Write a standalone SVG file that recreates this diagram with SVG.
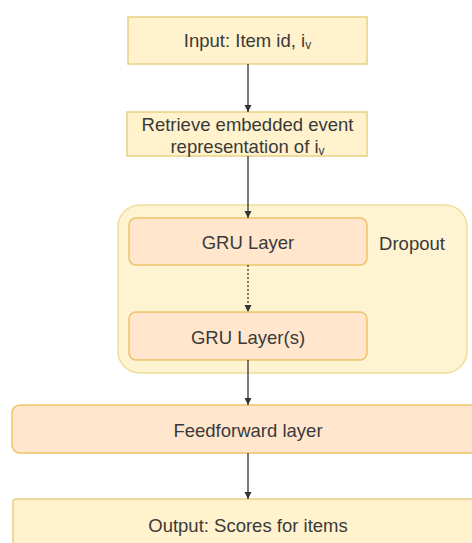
<svg xmlns="http://www.w3.org/2000/svg" width="472" height="543" viewBox="0 0 472 543">
<style>
.y{fill:#fff2cc;stroke:#e8d084;stroke-width:1.5}
.o{fill:#ffe6cc;stroke:#eec36a;stroke-width:1.5}
.c{fill:#fff4d2;stroke:#f0dc9a;stroke-width:1.5}
text{font-family:"Liberation Sans",Arial,sans-serif;font-size:18.5px;fill:#3a3a3a;text-anchor:middle;dominant-baseline:central}
.ln{stroke:#333;stroke-width:1.3;fill:none}
</style>
<defs>
<marker id="ah" markerWidth="8" markerHeight="8" refX="7" refY="4" orient="auto" markerUnits="userSpaceOnUse">
<path d="M0,0.5 L7,4 L0,7.5 Z" fill="#333"/>
</marker>
</defs>
<rect width="472" height="543" fill="#ffffff"/>
<g id="container">
<rect class="c" x="118" y="205" width="349" height="168" rx="22"/>
<text x="412" y="243">Dropout</text>
</g>
<g id="input">
<rect class="y" x="128" y="17" width="239" height="47"/>
<text x="247.5" y="40">Input: Item id, i<tspan font-size="12" dy="5">v</tspan></text>
</g>
<g id="retrieve">
<rect class="y" x="127" y="112" width="240" height="44"/>
<text x="247.5" y="124">Retrieve embedded event</text>
<text x="247.5" y="146">representation of i<tspan font-size="12" dy="5">v</tspan></text>
</g>
<g id="gru1">
<rect class="o" x="129" y="218" width="238" height="47" rx="7"/>
<text x="248" y="242">GRU Layer</text>
</g>
<g id="gru2">
<rect class="o" x="129" y="312" width="238" height="48" rx="7"/>
<text x="248" y="337">GRU Layer(s)</text>
</g>
<g id="feedforward">
<rect class="o" x="12" y="405" width="470" height="48" rx="8"/>
<text x="248" y="430">Feedforward layer</text>
</g>
<g id="output">
<rect class="y" x="13" y="499" width="470" height="60" rx="3"/>
<text x="248" y="525">Output: Scores for items</text>
</g>
<g id="connectors">
<line class="ln" x1="248" y1="64" x2="248" y2="112" marker-end="url(#ah)"/>
<line class="ln" x1="248" y1="156" x2="248" y2="218" marker-end="url(#ah)"/>
<line class="ln" x1="248" y1="265" x2="248" y2="312" stroke-dasharray="2,2" marker-end="url(#ah)"/>
<line class="ln" x1="248" y1="360" x2="248" y2="405" marker-end="url(#ah)"/>
<line class="ln" x1="248" y1="453" x2="248" y2="499" marker-end="url(#ah)"/>
</g>
</svg>
